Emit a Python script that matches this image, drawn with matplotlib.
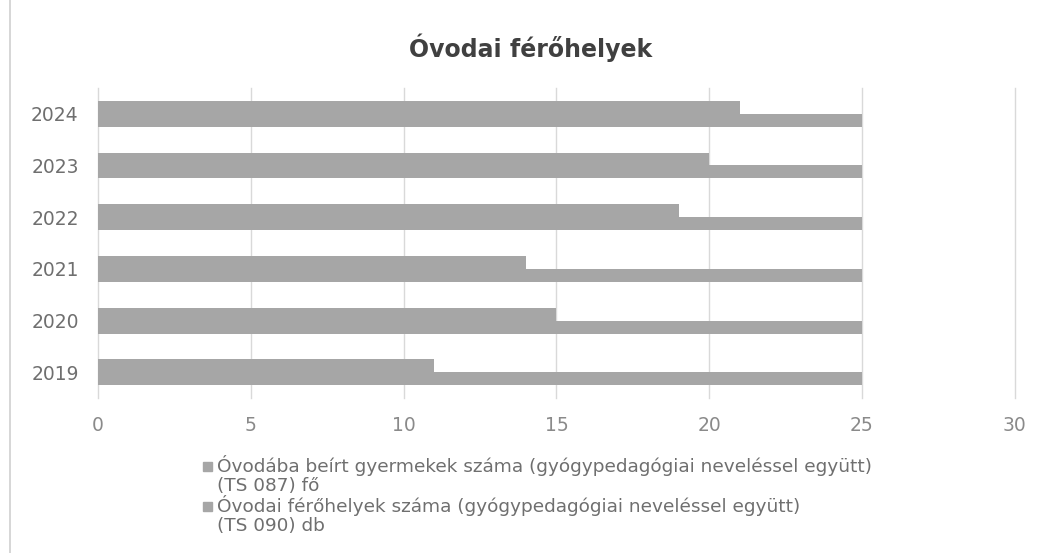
import matplotlib.pyplot as plt
import numpy as np
from matplotlib.patches import Rectangle

years = ["2019", "2020", "2021", "2022", "2023", "2024"]
enrolled = [11, 15, 14, 19, 20, 21]
capacity = [25, 25, 25, 25, 25, 25]
series_labels = [
    "Óvodába beírt gyermekek száma (gyógypedagógiai neveléssel együtt)\n(TS 087) fő",
    "Óvodai férőhelyek száma (gyógypedagógiai neveléssel együtt)\n(TS 090) db",
]
title = "Óvodai férőhelyek"

bar_color = "#a6a6a6"
text_color = "#6f6f6f"
grid_color = "#d9d9d9"

plt.rcParams["font.family"] = ["DejaVu Sans"]

W, H = 1044, 553
fig = plt.figure(figsize=(W / 100, H / 100), dpi=100)
ax = fig.add_axes([0.094, 0.28, 0.878, 0.561])

y = np.arange(len(years))
h = 0.25
ax.barh(y + h / 2, enrolled, height=h, color=bar_color, zorder=3)
ax.barh(y - h / 2, capacity, height=h, color=bar_color, zorder=3)

ax.set_xlim(0, 30)
ax.set_ylim(-0.5, len(years) - 0.5)
ax.set_xticks(range(0, 31, 5))
ax.set_yticks(y)
ax.set_yticklabels(years)
ax.grid(axis="x", color=grid_color, linewidth=1, zorder=0)
for gl in ax.get_xgridlines():
    gl.set_clip_on(False)
for s in ax.spines.values():
    s.set_visible(False)
ax.tick_params(length=0, colors=text_color, labelsize=13.5)
ax.tick_params(axis="x", pad=13, colors="#8a8a8a")
ax.tick_params(axis="y", pad=14)

fig.text(531 / W, 1 - 48 / H, title, ha="center", va="center", fontsize=17,
         fontweight="bold", color="#404040")

# legend drawn by hand so the square sits beside the first line of each label
line_px = 20
for i, lab in enumerate(series_labels):
    top = 466 + i * 2 * line_px
    fig.add_artist(Rectangle((203 / W, 1 - (top + 4.5) / H), 9 / W, 9 / H,
                             transform=fig.transFigure, color=bar_color))
    for j, part in enumerate(lab.split("\n")):
        fig.text(217 / W, 1 - (top + j * line_px) / H, part, ha="left",
                 va="center", fontsize=13.3, color=text_color)

fig.add_artist(plt.Line2D([10 / W, 10 / W], [0, 1], color="#d0d0d0", linewidth=1.2))

fig.savefig("out.png", dpi=100)
